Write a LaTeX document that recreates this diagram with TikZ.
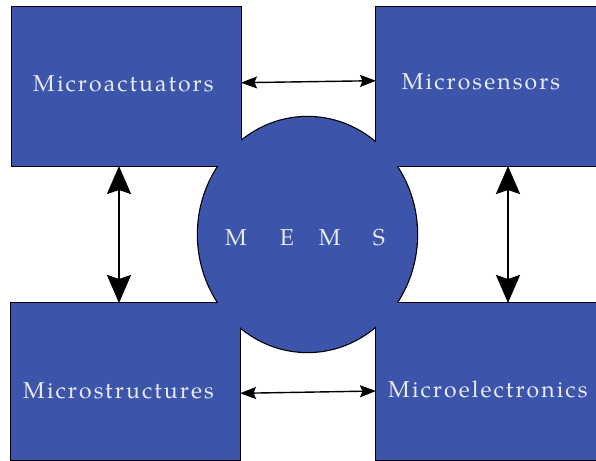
\documentclass[tikz,border=0pt]{standalone}
\usepackage{fontspec}
\setmainfont{TeX Gyre Pagella}
\usetikzlibrary{arrows.meta}
\definecolor{memsblue}{RGB}{60,85,170}
\definecolor{labelcol}{RGB}{232,234,245}
\begin{document}
\begin{tikzpicture}[x=1bp,y=-1bp,
  outl/.style={draw=black, line width=2.4bp},
  blk/.style={fill=memsblue},
  lbl/.style={inner sep=0pt, text=labelcol, font=\fontsize{23bp}{26bp}\selectfont\addfontfeatures{LetterSpace=9}},
  bigtip/.tip={Stealth[length=28bp,width=24bp,inset=4bp]},
  smalltip/.tip={Stealth[length=16bp,width=12bp,inset=2.5bp]},
  bigarrow/.style={line width=2.6bp, bigtip-bigtip},
  smallarrow/.style={line width=1.4bp, smalltip-smalltip}]
\useasboundingbox (0,0) rectangle (596,461);
\begin{scope}
\clip (0,0) rectangle (596,461);
\draw[outl] (12,7) rectangle (241,166);
\draw[outl] (376,7) rectangle (600,166);
\draw[outl] (11,303) rectangle (240,460);
\draw[outl] (376,303) rectangle (600,460);
\draw[outl] (307.5,234.5) ellipse [x radius=109.5bp, y radius=117.5bp];
\fill[blk] (12,7) rectangle (241,166);
\fill[blk] (376,7) rectangle (600,166);
\fill[blk] (11,303) rectangle (240,460);
\fill[blk] (376,303) rectangle (600,460);
\fill[blk] (307.5,234.5) ellipse [x radius=109.5bp, y radius=117.5bp];
\end{scope}
\node[lbl, anchor=base west] (act) at (33,91.7) {Microactuators};
\node[lbl, anchor=base west] (sen) at (401.7,89.3) {Microsensors};
\node[lbl, anchor=base west] (str) at (23,398.3) {Microstructures};
\node[lbl, anchor=base west] (ele) at (388,397.3) {Microelectronics};
\node[lbl, anchor=base west] (mems) at (225,246) {M\hspace{33bp}E\hspace{25bp}M\hspace{32bp}S};
\coordinate (actS) at (119,166);
\coordinate (strN) at (119,303);
\coordinate (senS) at (508,166);
\coordinate (eleN) at (508,303);
\coordinate (actE) at (241,82.7);
\coordinate (senW) at (376,80.7);
\coordinate (strE) at (240,393.3);
\coordinate (eleW) at (376,391);
\draw[bigarrow] (actS) -- (strN);
\draw[bigarrow] (senS) -- (eleN);
\draw[smallarrow] (actE) -- (senW);
\draw[smallarrow] (strE) -- (eleW);
\end{tikzpicture}
\end{document}
